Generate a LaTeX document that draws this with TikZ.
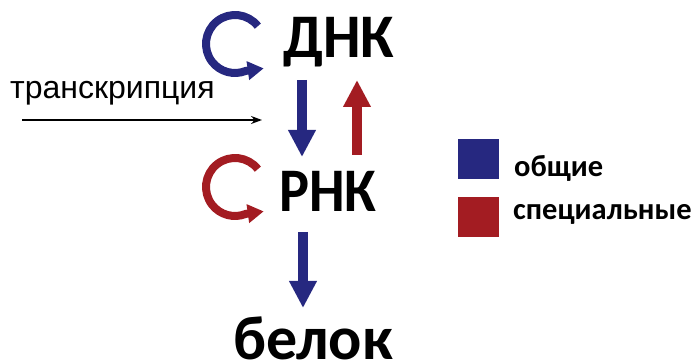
\documentclass[tikz,border=0pt]{standalone}
\usepackage{fontspec}
\setmainfont{Carlito}
\newfontfamily\arialfont{Liberation Sans}
\usetikzlibrary{arrows.meta}
\definecolor{cblue}{RGB}{38,40,128}
\definecolor{cred}{RGB}{163,28,34}
\begin{document}
\begin{tikzpicture}[x=1pt,y=1pt,
  bigtext/.style={inner sep=0pt,anchor=base west,font=\bfseries\fontsize{62}{62}\selectfont},
  legtext/.style={inner sep=0pt,anchor=base west,font=\bfseries\fontsize{30.5}{30.5}\selectfont},
  fatarrow/.style={line width=10pt,-{Triangle[width=26pt,length=27pt]}},
  cycarrow/.style={line width=8pt,-{Triangle[width=18pt,length=16pt]}},
  legbox/.style={inner sep=0pt,minimum width=41pt,minimum height=40pt}]
\useasboundingbox (0,0) rectangle (694,364);
% main labels
\node[bigtext] (dnk) at (283,306) {\scalebox{0.96}[1]{ДНК}};
\node[bigtext] (rnk) at (279,152) {\scalebox{0.91}[1]{РНК}};
\node[bigtext] (belok) at (233,4.5) {белок};
% transcription label
\node[inner sep=0pt,anchor=base west,font=\arialfont\fontsize{32}{32}\selectfont] (tr) at (10,265) {транскрипция};
\coordinate (trA) at (22,244);
\coordinate (trB) at (262,244);
\draw[line width=1.5pt,-{Stealth[length=11pt,width=8pt]}] (trA) -- (trB);
% cycle arrows
\coordinate (c1) at (235,320);
\coordinate (c2) at (235,177);
\draw[cycarrow,cblue] ([shift={(38:29)}]c1) arc[start angle=38,end angle=292,radius=29] -- ++(8:18);
\draw[cycarrow,cred] ([shift={(38:29)}]c2) arc[start angle=38,end angle=292,radius=29] -- ++(8:18);
% vertical arrows
\coordinate (b1s) at (302,284);
\coordinate (b1e) at (302,207);
\coordinate (r1s) at (357,209);
\coordinate (r1e) at (357,284);
\coordinate (b2s) at (303,132);
\coordinate (b2e) at (303,56);
\draw[fatarrow,cblue] (b1s) -- (b1e);
\draw[fatarrow,cred] (r1s) -- (r1e);
\draw[fatarrow,cblue] (b2s) -- (b2e);
% legend
\node[legbox,fill=cblue] (lb) at (478.5,205) {};
\node[legbox,fill=cred] (lr) at (478.5,147) {};
\node[legtext] (lbt) at (514,187) {общие};
\node[legtext] (lrt) at (513,144) {специальные};
\end{tikzpicture}
\end{document}
